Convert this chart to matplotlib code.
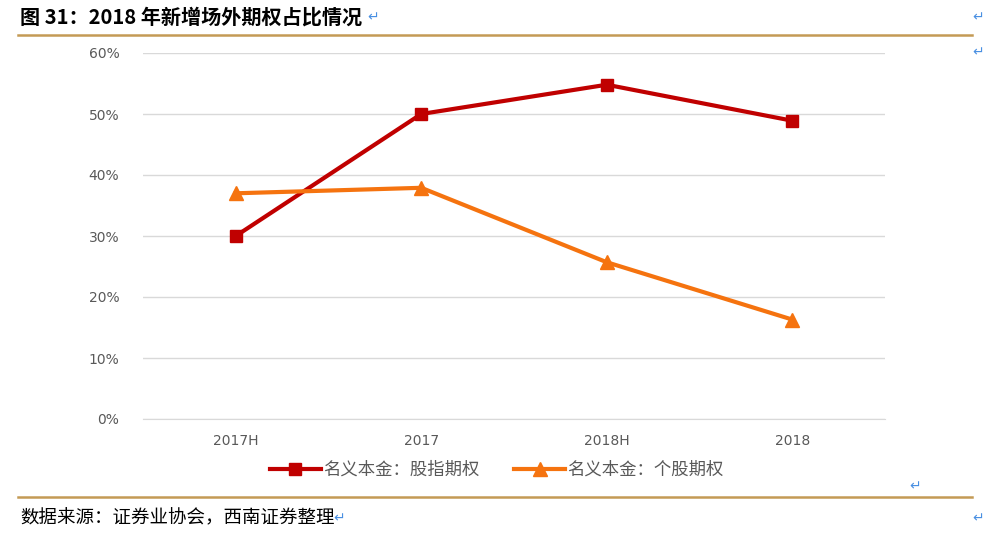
import matplotlib
matplotlib.use("Agg")
import matplotlib.pyplot as plt
from matplotlib.ticker import PercentFormatter, FixedLocator

plt.rcParams['font.family'] = ['Noto Sans CJK SC', 'DejaVu Sans']

categories = ["2017H", "2017", "2018H", "2018"]
index_options = [0.30, 0.50, 0.548, 0.489]
stock_options = [0.370, 0.379, 0.257, 0.163]
series_names = ["名义本金：股指期权", "名义本金：个股期权"]
yticks = [0.0, 0.1, 0.2, 0.3, 0.4, 0.5, 0.6]

title = "图 31：2018 年新增场外期权占比情况"
source = "数据来源：证券业协会，西南证券整理"

fig = plt.figure(figsize=(9.91, 5.34), dpi=100)
ax = fig.add_axes([143/991, 1-419/534, (885-143)/991, (419-53)/534])

x = list(range(len(categories)))
ax.plot(x, index_options, color="#C00000", lw=3, marker="s", ms=9,
        label=series_names[0], zorder=3)
ax.plot(x, stock_options, color="#F5730F", lw=3, marker="^", ms=10,
        label=series_names[1], zorder=3)

ax.set_xlim(-0.5, len(categories) - 0.5)
ax.set_ylim(0, 0.6)
ax.yaxis.set_major_locator(FixedLocator(yticks))
ax.yaxis.set_major_formatter(PercentFormatter(1.0, decimals=0))
ax.set_xticks(x)
ax.set_xticklabels(categories)
ax.grid(axis="y", color="#D9D9D9", lw=1)
ax.set_axisbelow(True)
for s in ["top", "right", "left"]:
    ax.spines[s].set_visible(False)
ax.spines["bottom"].set_color("#D9D9D9")
ax.tick_params(axis="both", length=0, colors="#595959", labelsize=10)
ax.tick_params(axis="y", pad=17)
ax.tick_params(axis="x", pad=11)
for lab in ax.get_xticklabels() + ax.get_yticklabels():
    lab.set_family("DejaVu Sans")

leg = fig.legend(loc="center", bbox_to_anchor=(497/991, 1-470/534), ncol=2,
                 frameon=False, fontsize=12.5, handlelength=2.9,
                 columnspacing=2.0, handletextpad=0.15)
for t in leg.get_texts():
    t.set_color("#595959")

# title & decorations
fig.text(20/991, 1-17/534, title, fontsize=14.5, fontweight="bold", va="center",
         ha="left", color="#000000")
fig.add_artist(plt.Line2D([18/991, 972/991], [1-35/534, 1-35/534],
                          color="#C49A55", lw=1.8))
fig.add_artist(plt.Line2D([18/991, 972/991], [1-497/534, 1-497/534],
                          color="#C49A55", lw=1.8))
fig.text(20/991, 1-518/534, source, fontsize=13.3, style="italic", va="center",
         ha="left", color="#000000")

arrow_color = "#4A90E2"
for (ax_x, ax_y) in [(373, 17), (978, 17), (978, 52), (915, 486), (339, 518), (978, 518)]:
    fig.text(ax_x/991, 1-ax_y/534, "↵", fontsize=10, color=arrow_color,
             va="center", ha="center", family="DejaVu Sans")

fig.savefig("out.png", dpi=100)
